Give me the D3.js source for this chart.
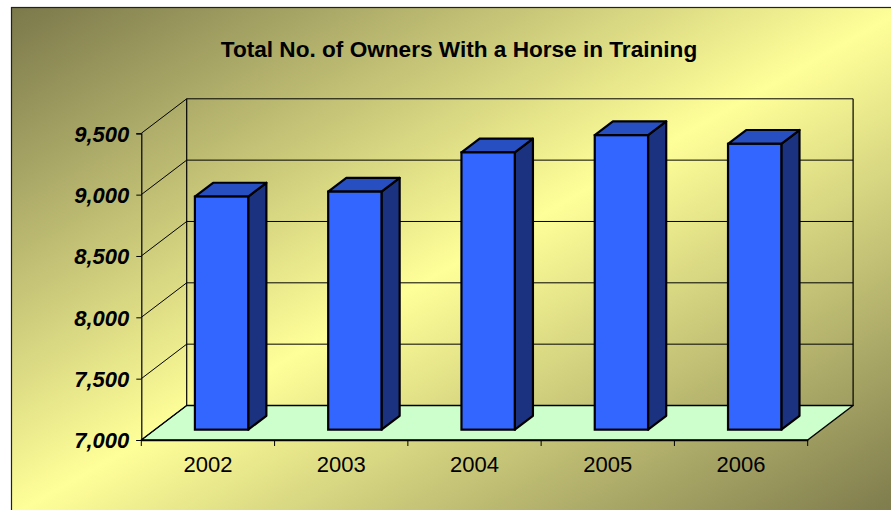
<!DOCTYPE html>
<html>
<head>
<meta charset="utf-8">
<script src="https://cdn.jsdelivr.net/npm/d3@7"></script>
<style>
html,body{margin:0;padding:0;background:#fff;}
svg{display:block;}
</style>
</head>
<body>
<svg id="chart" width="891" height="510"></svg>
<script>
const title = "Total No. of Owners With a Horse in Training";
const years = ["2002", "2003", "2004", "2005", "2006"];
const owners = [8900, 8940, 9260, 9400, 9330];
const yTicks = [7000, 7500, 8000, 8500, 9000, 9500];

const svg = d3.select("#chart");
const defs = svg.append("defs");
const grad = defs.append("linearGradient").attr("id", "bg")
  .attr("x1", 0).attr("y1", 0).attr("x2", 1).attr("y2", 1);
grad.append("stop").attr("offset", 0).attr("stop-color", "#7b784b");
grad.append("stop").attr("offset", 0.5).attr("stop-color", "#ffff99");
grad.append("stop").attr("offset", 1).attr("stop-color", "#7b784b");

svg.append("rect").attr("x", 11.5).attr("y", 7.5).attr("width", 896).attr("height", 508)
  .attr("fill", "url(#bg)").attr("stroke", "#222").attr("stroke-width", 1.2);

svg.append("text").attr("x", 459).attr("y", 56.5).attr("text-anchor", "middle")
  .attr("font-family", "Liberation Sans, Arial, sans-serif").attr("font-weight", "bold")
  .attr("font-size", 22.6).attr("fill", "#000").text(title);

// scales
const x = d3.scaleBand().domain(years).range([141.3, 807.7]);
const y = d3.scaleLinear().domain([7000, 9500]).range([440, 133.3]);
const DX = 45.4, DY = -34.5;
const bw = x.bandwidth();

const g = svg.append("g");

// floor
const y0 = y(7000);
g.append("path")
  .attr("d", `M${x.range()[0]},${y0} L${x.range()[1]},${y0} L${x.range()[1] + DX},${y0 + DY} L${x.range()[0] + DX},${y0 + DY} Z`)
  .attr("fill", "#ccffcc").attr("stroke", "#000").attr("stroke-width", 1.5).attr("stroke-linejoin", "round");

// back wall gridlines & outline
const bx0 = x.range()[0] + DX, bx1 = x.range()[1] + DX;
yTicks.forEach(t => {
  if (t === 7000) return;
  g.append("line").attr("x1", bx0).attr("x2", bx1)
    .attr("y1", y(t) + DY).attr("y2", y(t) + DY)
    .attr("stroke", "#000").attr("stroke-width", 1);
});
g.append("line").attr("x1", bx0).attr("x2", bx0).attr("y1", y(9500) + DY).attr("y2", y0 + DY)
  .attr("stroke", "#000").attr("stroke-width", 1.2);
g.append("line").attr("x1", bx1).attr("x2", bx1).attr("y1", y(9500) + DY).attr("y2", y0 + DY)
  .attr("stroke", "#000").attr("stroke-width", 1.2);

// side wall diagonals
yTicks.forEach(t => {
  g.append("line").attr("x1", x.range()[0]).attr("y1", y(t))
    .attr("x2", x.range()[0] + DX).attr("y2", y(t) + DY)
    .attr("stroke", "#000").attr("stroke-width", 1);
});

// bars
const fz = 0.3, bz = 0.7;
const bars = g.selectAll("g.bar").data(years.map((yr, i) => ({ yr, v: owners[i] })))
  .enter().append("g").attr("class", "bar");
bars.each(function(d) {
  const sel = d3.select(this);
  const xl = x(d.yr) + 0.3 * bw + fz * DX;
  const xr = x(d.yr) + 0.7 * bw + fz * DX;
  const yb = y(7000) + fz * DY;
  const yt = y(d.v) + fz * DY;
  const ddx = (bz - fz) * DX, ddy = (bz - fz) * DY;
  sel.append("path")
    .attr("d", `M${xr},${yt} L${xr + ddx},${yt + ddy} L${xr + ddx},${yb + ddy} L${xr},${yb} Z`)
    .attr("fill", "#1b3280").attr("stroke", "#000").attr("stroke-width", 2.2).attr("stroke-linejoin", "round");
  sel.append("path")
    .attr("d", `M${xl},${yt} L${xl + ddx},${yt + ddy} L${xr + ddx},${yt + ddy} L${xr},${yt} Z`)
    .attr("fill", "#284fc2").attr("stroke", "#000").attr("stroke-width", 2.2).attr("stroke-linejoin", "round");
  sel.append("rect").attr("x", xl).attr("y", yt).attr("width", xr - xl).attr("height", yb - yt)
    .attr("fill", "#3366ff").attr("stroke", "#000").attr("stroke-width", 2.2);
});

// y axis
const yAxis = d3.axisLeft(y).tickValues(yTicks).tickSize(5).tickPadding(7)
  .tickFormat(d3.format(","));
const ya = svg.append("g").attr("transform", `translate(${x.range()[0]},0)`).call(yAxis);
ya.select(".domain").attr("stroke", "#000").attr("stroke-width", 1.2);
ya.selectAll(".tick line").attr("stroke", "#000");
ya.selectAll("text").attr("font-family", "Liberation Sans, Arial, sans-serif")
  .attr("font-weight", "bold").attr("font-style", "italic").attr("font-size", 22)
  .attr("fill", "#000").attr("dy", "0.36em");

// x axis
const xAxis = d3.axisBottom(x).tickSize(0).tickPadding(16);
const xa = svg.append("g").attr("transform", `translate(0,${y0})`).call(xAxis);
xa.select(".domain").attr("stroke", "#000").attr("stroke-width", 1.5);
xa.selectAll("text").attr("font-family", "Liberation Sans, Arial, sans-serif")
  .attr("font-size", 22).attr("fill", "#000");
const bounds = years.map(yr => x(yr)).concat([x.range()[1]]);
xa.selectAll("line.bnd").data(bounds).enter().append("line").attr("class", "bnd")
  .attr("x1", d => d).attr("x2", d => d).attr("y1", 0).attr("y2", 6)
  .attr("stroke", "#000").attr("stroke-width", 1);
</script>
</body>
</html>
